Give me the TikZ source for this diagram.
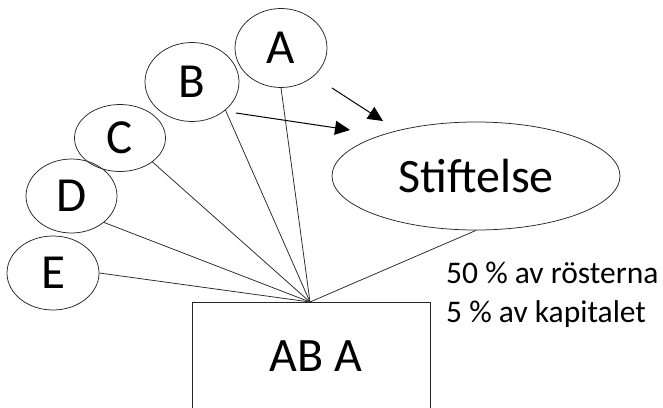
\documentclass[tikz,border=0pt]{standalone}
\usepackage{fontspec}
\setmainfont{Carlito}
\usetikzlibrary{shapes.geometric,arrows.meta}
\begin{document}
\begin{tikzpicture}[x=1pt,y=-1pt,
  owner/.style={draw=black!85,line width=0.75pt,ellipse,inner sep=0pt,font=\fontsize{49}{58}\selectfont},
  link/.style={draw=black!85,line width=0.75pt},
  flow/.style={draw=black,line width=1pt,-{Triangle[length=15pt,width=14pt]}},
  box/.style={draw=black!85,line width=0.75pt,rectangle,inner sep=0pt,minimum width=238pt,minimum height=130pt}]
\useasboundingbox (0,0) rectangle (663,407);
\clip (0,0) rectangle (663,407);
\node[owner,minimum width=92pt,minimum height=79pt] (A) at (281,48) {A};
\node[owner,minimum width=94pt,minimum height=79pt] (B) at (192,82) {B};
\node[owner,minimum width=91pt,minimum height=67pt] (C) at (120,138) {C};
\node[owner,minimum width=91pt,minimum height=74pt] (D) at (71.5,196) {D};
\node[owner,minimum width=92pt,minimum height=74pt] (E) at (53,273) {E};
\node[owner,minimum width=288pt,minimum height=108pt,font=\fontsize{48}{58}\selectfont] (S) at (476,176) {Stiftelse};
\node[box] (ab) at (311,367) {};
\node[anchor=base,font=\fontsize{48}{58}\selectfont,inner sep=0pt] (abt) at (316,371) {AB A};
\node[anchor=base west,font=\fontsize{31.5}{38}\selectfont,inner sep=0pt] (t1) at (446,283) {50 \% av rösterna};
\node[anchor=base west,font=\fontsize{31.5}{38}\selectfont,inner sep=0pt] (t2) at (446,322) {5 \% av kapitalet};
\coordinate (P) at (310,302);
\draw[link] (A.south) -- (P);
\draw[link] (B.south east) -- (P);
\draw[link] (C.south east) -- (P);
\draw[link] (D.south east) -- (P);
\draw[link] (E.east) -- (P);
\draw[link] (S.south) -- (P);
\coordinate (a1s) at (332,88);
\coordinate (a1e) at (383,121);
\coordinate (a2s) at (236,113);
\coordinate (a2e) at (350,130);
\draw[flow] (a1s) -- (a1e);
\draw[flow] (a2s) -- (a2e);
\end{tikzpicture}
\end{document}
